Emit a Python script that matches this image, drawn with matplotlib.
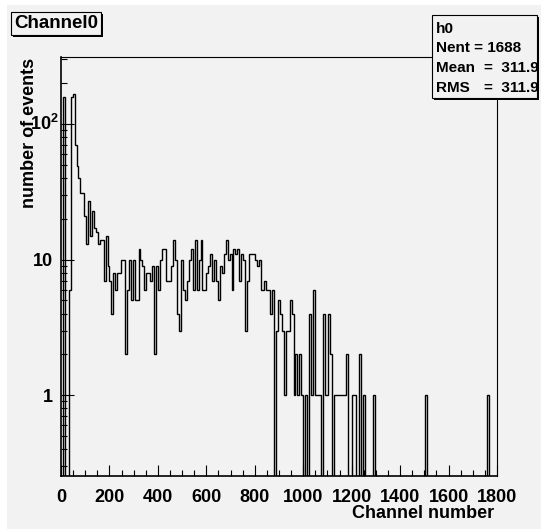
import matplotlib
matplotlib.use("Agg")
import matplotlib.pyplot as plt
from matplotlib.patches import Rectangle
from matplotlib.ticker import MultipleLocator, LogLocator, NullFormatter
import numpy as np

plt.rcParams['font.family'] = ['Liberation Sans', 'DejaVu Sans']
plt.rcParams['font.weight'] = 'bold'
plt.rcParams['mathtext.fontset'] = 'custom'
plt.rcParams['mathtext.rm'] = 'Liberation Sans:bold'
plt.rcParams['mathtext.bf'] = 'Liberation Sans:bold'

# histogram h0 : 225 bins of 8 channels, 0 - 1800
bin_width = 8
x_min, x_max = 0, 1800
counts = [
    0, 159, 0, 0, 6, 159, 165, 70, 49, 40, 31, 31, 21, 13, 27, 15, 23, 17, 16, 13,
    14, 14, 7, 15, 9, 7, 4, 8, 6, 8, 8, 10, 10, 2, 6, 10, 5, 10, 5, 5,
    12, 10, 9, 6, 8, 8, 7, 9, 2, 9, 6, 10, 12, 12, 7, 7, 7, 9, 14, 10,
    4, 3, 10, 6, 5, 7, 10, 12, 6, 14, 6, 10, 14, 6, 6, 8, 9, 11, 7, 10,
    7, 5, 9, 8, 11, 14, 10, 11, 6, 12, 11, 12, 7, 11, 10, 3, 7, 11, 11, 11,
    10, 9, 10, 6, 6, 7, 6, 6, 4, 6, 0, 3, 5, 4, 3, 1, 3, 3, 5, 4,
    1, 2, 1, 2, 1, 0, 1, 0, 4, 1, 6, 1, 1, 1, 0, 4, 1, 1, 4, 2,
    0, 1, 1, 1, 1, 1, 1, 2, 0, 0, 1, 1, 0, 0, 2, 0, 1, 0, 0, 0,
    0, 1, 0, 0, 0, 0, 0, 0, 0, 0, 0, 0, 0, 0, 0, 0, 0, 0, 0, 0,
    0, 0, 0, 0, 0, 0, 0, 0, 1, 0, 0, 0, 0, 0, 0, 0, 0, 0, 0, 0,
    0, 0, 0, 0, 0, 0, 0, 0, 0, 0, 0, 0, 0, 0, 0, 0, 0, 0, 0, 0,
    1, 0, 0, 0, 0,
]
y_min, y_max = 0.254, 310
title = "Channel0"
x_title = "Channel number"
y_title = "number of events"
stats_name = "h0"
stats = [("Nent = 1688", None), ("Mean", "=  311.9"), ("RMS", "=  311.9")]

W, H = 541, 529
bg = '#f2f2f2'


def fx(px):
    return px / W


def fy(py):
    return 1 - py / H


fig = plt.figure(figsize=(W / 100, H / 100), dpi=100)
fig.patch.set_facecolor('white')
fig.patches.append(Rectangle((fx(7), 0), 1, fy(5), transform=fig.transFigure,
                             facecolor=bg, edgecolor='none', zorder=-10))

ax = fig.add_axes([fx(61), fy(476), (497 - 61) / W, (476 - 57.3) / H])
ax.set_facecolor(bg)
ax.set_zorder(1)

edges = np.arange(x_min, x_max + bin_width, bin_width)
vals = np.array(counts, dtype=float)
vals[vals <= 0] = 1e-3
ax.stairs(vals, edges, color='black', linewidth=1.0, baseline=1e-3)

ax.set_yscale('log')
ax.set_xlim(x_min, x_max)
ax.set_ylim(y_min, y_max)

ax.xaxis.set_major_locator(MultipleLocator(200))
ax.xaxis.set_minor_locator(MultipleLocator(50))
ax.yaxis.set_minor_locator(LogLocator(base=10, subs=np.arange(2, 10)))
ax.yaxis.set_minor_formatter(NullFormatter())
ax.set_yticks([1, 10, 100])
ax.set_yticklabels(['1', '10', ''])

ax.tick_params(axis='x', which='major', direction='in', length=8, width=0.8,
               labelsize=13, pad=9)
ax.tick_params(axis='x', which='minor', direction='in', length=4, width=0.8)
ax.tick_params(axis='y', which='major', direction='in', length=9.4, width=0.8,
               labelsize=13, pad=6)
ax.tick_params(axis='y', which='minor', direction='in', length=4.3, width=0.8)
for lab in ax.get_xticklabels() + ax.get_yticklabels():
    lab.set_fontweight('bold')

for s in ['left', 'bottom']:
    ax.spines[s].set_linewidth(1.2)
for s in ['top', 'right']:
    ax.spines[s].set_linewidth(0.8)

fig.text(fx(59), fy(124), r'$\mathbf{10^{2}}$', ha='right', va='center',
         fontsize=13, zorder=3)
fig.text(fx(30), fy(58), y_title, rotation=90, ha='center', va='top',
         fontsize=13, fontweight='bold', zorder=3)
fig.text(fx(494), fy(514), x_title, ha='right', va='center',
         fontsize=13, fontweight='bold', zorder=3)


def box(x0, y0, x1, y1):
    fig.patches.append(Rectangle((fx(x0 + 2), fy(y1 + 2)), (x1 - x0) / W, (y1 - y0) / H,
                                 transform=fig.transFigure, facecolor='black',
                                 edgecolor='none', zorder=5))
    fig.patches.append(Rectangle((fx(x0), fy(y1)), (x1 - x0) / W, (y1 - y0) / H,
                                 transform=fig.transFigure, facecolor=bg,
                                 edgecolor='black', linewidth=0.8, zorder=6))


box(11, 12, 101, 35)
fig.text(fx(14), fy(24), title, ha='left', va='center', fontsize=13.5,
         fontweight='bold', zorder=7)

box(432, 15, 537, 98)
fig.text(fx(436), fy(29), stats_name, ha='left', va='center', fontsize=11,
         fontweight='bold', zorder=7)
for i, (key, val) in enumerate(stats):
    yy = 48 + 20 * i
    fig.text(fx(436), fy(yy), key, ha='left', va='center', fontsize=11,
             fontweight='bold', zorder=7)
    if val is not None:
        fig.text(fx(539), fy(yy), val, ha='right', va='center', fontsize=11,
                 fontweight='bold', zorder=7)

fig.savefig('out.png', dpi=100, facecolor=fig.get_facecolor())
